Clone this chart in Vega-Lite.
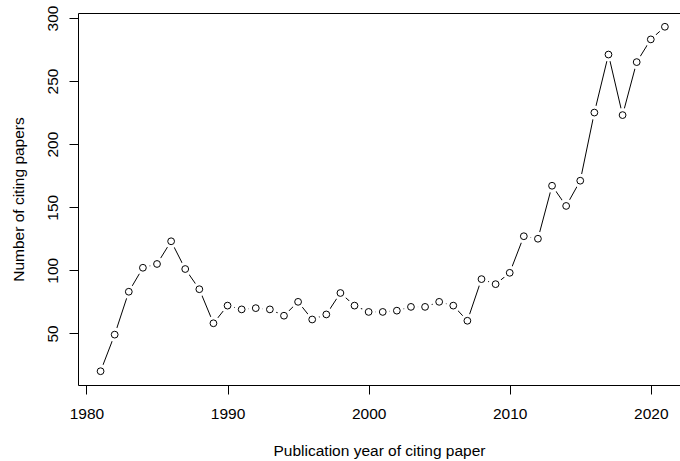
{
  "$schema": "https://vega.github.io/schema/vega-lite/v6.json",
  "width": 602,
  "height": 372,
  "autosize": "none",
  "padding": {"left": 78, "top": 13, "right": 0, "bottom": 76},
  "background": "white",
  "config": {
    "view": {"stroke": null},
    "font": "Liberation Sans",
    "axis": {
      "domainColor": "black",
      "domainWidth": 1,
      "tickColor": "black",
      "tickWidth": 1,
      "tickSize": 9,
      "grid": false,
      "labelFont": "Liberation Sans",
      "labelFontSize": 15.5,
      "labelColor": "black",
      "titleFont": "Liberation Sans",
      "titleFontSize": 15.5,
      "titleFontWeight": "normal",
      "titleColor": "black"
    }
  },
  "data": {
    "values": [
      {"year": 1981, "n": 20}, {"year": 1982, "n": 49}, {"year": 1983, "n": 83},
      {"year": 1984, "n": 102}, {"year": 1985, "n": 105}, {"year": 1986, "n": 123},
      {"year": 1987, "n": 101}, {"year": 1988, "n": 85}, {"year": 1989, "n": 58},
      {"year": 1990, "n": 72}, {"year": 1991, "n": 69}, {"year": 1992, "n": 70},
      {"year": 1993, "n": 69}, {"year": 1994, "n": 64}, {"year": 1995, "n": 75},
      {"year": 1996, "n": 61}, {"year": 1997, "n": 65}, {"year": 1998, "n": 82},
      {"year": 1999, "n": 72}, {"year": 2000, "n": 67}, {"year": 2001, "n": 67},
      {"year": 2002, "n": 68}, {"year": 2003, "n": 71}, {"year": 2004, "n": 71},
      {"year": 2005, "n": 75}, {"year": 2006, "n": 72}, {"year": 2007, "n": 60},
      {"year": 2008, "n": 93}, {"year": 2009, "n": 89}, {"year": 2010, "n": 98},
      {"year": 2011, "n": 127}, {"year": 2012, "n": 125}, {"year": 2013, "n": 167},
      {"year": 2014, "n": 151}, {"year": 2015, "n": 171}, {"year": 2016, "n": 225},
      {"year": 2017, "n": 271}, {"year": 2018, "n": 223}, {"year": 2019, "n": 265},
      {"year": 2020, "n": 283}, {"year": 2021, "n": 293}
    ]
  },
  "layer": [
    {
      "mark": {"type": "line", "color": "black", "strokeWidth": 1},
      "encoding": {
        "x": {
          "field": "year", "type": "quantitative",
          "scale": {"domain": [1979.4, 2022.07], "nice": false, "zero": false},
          "axis": {
            "orient": "bottom", "values": [1980, 1990, 2000, 2010, 2020], "format": "d",
            "labelPadding": 12.5, "labelBaseline": "top",
            "title": "Publication year of citing paper",
            "titleBaseline": "top", "titleY": 58.5, "titleX": 301
          }
        },
        "y": {
          "field": "n", "type": "quantitative",
          "scale": {"domain": [9.08, 303.92], "nice": false, "zero": false},
          "axis": {
            "orient": "left", "values": [50, 100, 150, 200, 250, 300], "format": "d",
            "labelAngle": 270, "labelAlign": "center", "labelBaseline": "bottom", "labelPadding": 9,
            "title": "Number of citing papers",
            "titleAngle": 270, "titleBaseline": "top", "titleX": -67, "titleY": 186
          }
        }
      }
    },
    {
      "mark": {"type": "point", "shape": "circle", "filled": true, "fill": "white", "size": 200, "opacity": 1, "strokeWidth": 0},
      "encoding": {
        "x": {"field": "year", "type": "quantitative",
              "axis": {"orient": "top", "labels": false, "ticks": false, "title": null, "domain": true}},
        "y": {"field": "n", "type": "quantitative", "axis": null}
      }
    },
    {
      "mark": {"type": "point", "shape": "circle", "filled": false, "color": "black", "size": 46, "strokeWidth": 1, "opacity": 1},
      "encoding": {
        "x": {"field": "year", "type": "quantitative", "axis": null},
        "y": {"field": "n", "type": "quantitative", "axis": null}
      }
    }
  ],
  "resolve": {"axis": {"x": "independent", "y": "independent"}}
}
